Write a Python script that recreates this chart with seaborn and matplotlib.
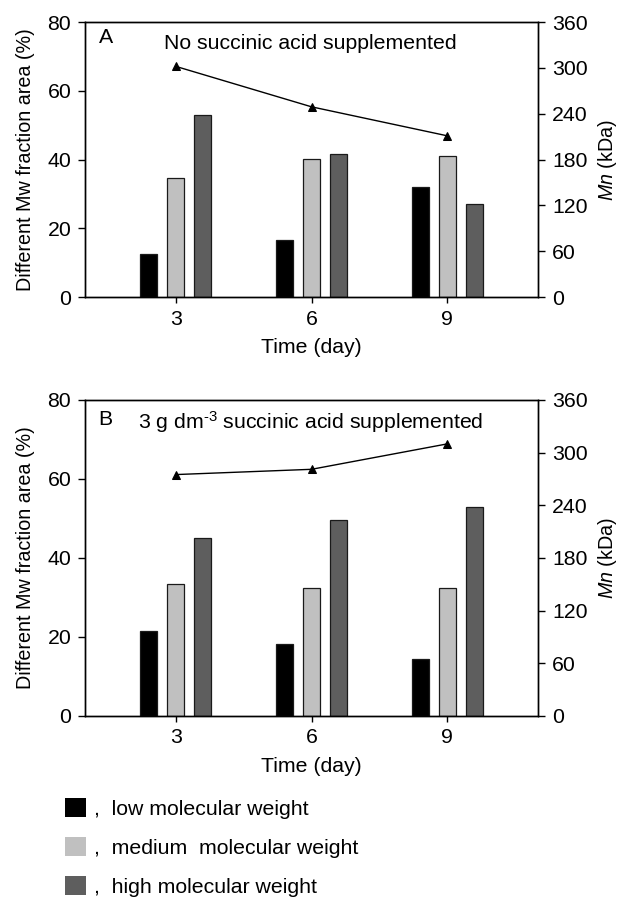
import pandas as pd
import seaborn as sns
import matplotlib.pyplot as plt
from matplotlib.patches import Patch

days = [3, 6, 9]
fractions = ['low', 'medium', 'high']

# panel A - no succinic acid
a_low = [12.5, 16.6, 32.0]
a_medium = [34.5, 40.1, 41.1]
a_high = [53.0, 41.5, 27.0]
a_mn = [302, 249, 211]

# panel B - 3 g/dm3 succinic acid
b_low = [21.4, 18.1, 14.4]
b_medium = [33.3, 32.4, 32.4]
b_high = [45.1, 49.5, 53.0]
b_mn = [275, 281, 310]

legend_labels = [',  low molecular weight', ',  medium  molecular weight', ',  high molecular weight']
colors = {'low': '#000000', 'medium': '#c0c0c0', 'high': '#5e5e5e'}

sns.set_style('ticks')
plt.rcParams['font.family'] = ['Liberation Sans', 'DejaVu Sans']
plt.rcParams['mathtext.fontset'] = 'custom'
plt.rcParams['mathtext.rm'] = 'Liberation Sans'
plt.rcParams['mathtext.it'] = 'Liberation Sans:italic'
plt.rcParams['axes.linewidth'] = 1.0
for k in ['text.color', 'axes.labelcolor', 'xtick.color', 'ytick.color', 'axes.edgecolor']:
    plt.rcParams[k] = 'black'
fs = 15.3


def long_df(low, medium, high):
    rows = []
    for frac, vals in zip(fractions, [low, medium, high]):
        for d, v in zip(days, vals):
            rows.append({'day': d, 'fraction': frac, 'value': v})
    return pd.DataFrame(rows)


def panel(ax, df, mn, letter, title, title_x, ys):
    sns.barplot(data=df, x='day', y='value', hue='fraction', hue_order=fractions,
                palette=colors, native_scale=True, width=0.6, gap=0.37,
                edgecolor='#1a1a1a', linewidth=0.9, legend=False, ax=ax)
    ax.set_xlim(1, 11)
    ax.set_xticks(days)
    ax.set_ylim(0, 80)
    ax.set_yticks(range(0, 81, 20))
    ax.set_xlabel('Time (day)', fontsize=fs, labelpad=7)
    ax.set_ylabel('Different Mw fraction area (%)', fontsize=14.2, labelpad=9)
    ax.tick_params(axis='both', labelsize=fs, length=5, width=1, pad=5)
    ax.tick_params(axis='x', length=4)
    for s in ax.spines.values():
        s.set_visible(True)

    ax2 = ax.twinx()
    sns.lineplot(x=days, y=mn, ax=ax2, color='black', marker='^', markersize=6,
                 markeredgecolor='black', linewidth=1)
    ax2.set_ylim(0, 360)
    ax2.set_yticks(range(0, 361, 60))
    ax2.set_ylabel(r'$\mathit{Mn}$ (kDa)', fontsize=14.2, labelpad=6)
    ax2.tick_params(axis='y', labelsize=fs, length=5, width=1, pad=5)

    ax.text(0.03, ys[0], letter, transform=ax.transAxes, fontsize=fs, va='baseline')
    ax.text(title_x, ys[1], title, transform=ax.transAxes, fontsize=fs, va='baseline')


fig = plt.figure(figsize=(6.22, 8.99), dpi=100)
ax_a = fig.add_axes([0.1367, 0.6696, 0.7283, 0.3059])
ax_b = fig.add_axes([0.1367, 0.2036, 0.7283, 0.3515])

panel(ax_a, long_df(a_low, a_medium, a_high), a_mn, 'A',
      'No succinic acid supplemented', 0.174, (0.924, 0.902))
panel(ax_b, long_df(b_low, b_medium, b_high), b_mn, 'B',
      r'3 g dm$^{\text{-3}}$ succinic acid supplemented', 0.117, (0.921, 0.908))

handles = [Patch(facecolor=colors[f], edgecolor='none') for f in fractions]
fig.legend(handles, legend_labels, loc='upper left', bbox_to_anchor=(0.1045, 0.112),
           frameon=False, fontsize=fs, handlelength=1.0, handleheight=1.0,
           handletextpad=0.35, labelspacing=0.85, borderpad=0, borderaxespad=0)

fig.savefig('out.png', dpi=100)
